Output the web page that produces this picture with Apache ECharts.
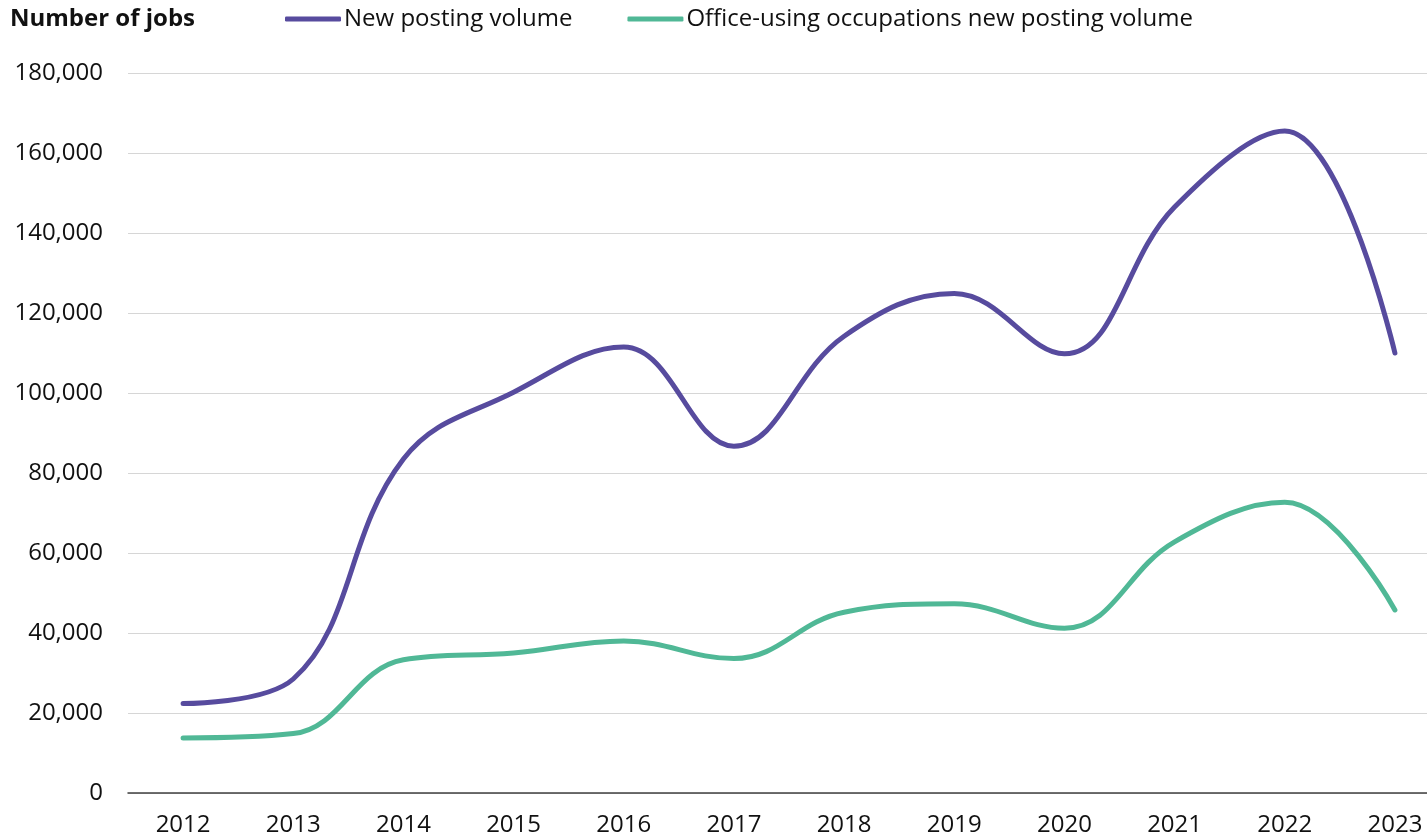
<!DOCTYPE html>
<html>
<head>
<meta charset="utf-8">
<script src="https://cdn.jsdelivr.net/npm/echarts@6/dist/echarts.min.js"></script>
<style>
  html, body { margin: 0; padding: 0; background: #fff; }
  #chart { width: 1427px; height: 840px; }
</style>
</head>
<body>
<div id="chart"></div>
<script>
var years = ['2012', '2013', '2014', '2015', '2016', '2017', '2018', '2019', '2020', '2021', '2022', '2023'];
var newPosting = [22350, 28500, 83500, 100200, 111500, 86700, 114200, 124900, 109800, 146500, 165500, 110000];
var officePosting = [13750, 14850, 33300, 35000, 38000, 33600, 45200, 47300, 41200, 62800, 72700, 45750];
var yTicks = [0, 20000, 40000, 60000, 80000, 100000, 120000, 140000, 160000, 180000];

var font = '"Open Sans", "Noto Sans", sans-serif';
var purple = '#574b9e';
var green = '#50b896';

var chart = echarts.init(document.getElementById('chart'));
chart.setOption({
  animation: false,
  title: {
    text: 'Number of jobs',
    left: 10, top: 7, padding: 0,
    textStyle: { fontFamily: font, fontSize: 24, fontWeight: 'bold', color: '#111' }
  },
  legend: {
    left: 285, top: 7, padding: 0,
    icon: 'roundRect',
    itemWidth: 56, itemHeight: 5,
    itemGap: 55,
    textStyle: { fontFamily: font, fontSize: 24, color: '#111', padding: [0, 0, 0, -2] },
    data: ['New posting volume', 'Office-using occupations new posting volume']
  },
  grid: { left: 128, top: 73, height: 720, width: 1322, outerBoundsMode: 'none', containLabel: false },
  xAxis: {
    type: 'category',
    data: years,
    boundaryGap: true,
    axisTick: { show: false },
    axisLine: { lineStyle: { color: '#404040', width: 1.5 } },
    axisLabel: { fontFamily: font, fontSize: 24, color: '#111', margin: 20 }
  },
  yAxis: {
    type: 'value',
    min: yTicks[0], max: yTicks[yTicks.length - 1], interval: 20000,
    axisLine: { show: false },
    axisTick: { show: false },
    splitLine: { lineStyle: { color: '#d6d6d6', width: 1 } },
    axisLabel: {
      fontFamily: font, fontSize: 24, color: '#111', margin: 25,
      formatter: function (v) { return v.toLocaleString('en-US'); }
    }
  },
  series: [
    {
      name: 'New posting volume',
      type: 'line',
      data: newPosting,
      smooth: 0.4,
      showSymbol: false,
      color: purple,
      lineStyle: { width: 5, color: purple, cap: 'round' }
    },
    {
      name: 'Office-using occupations new posting volume',
      type: 'line',
      data: officePosting,
      smooth: 0.4,
      showSymbol: false,
      color: green,
      lineStyle: { width: 5, color: green, cap: 'round' }
    }
  ]
});
</script>
</body>
</html>
